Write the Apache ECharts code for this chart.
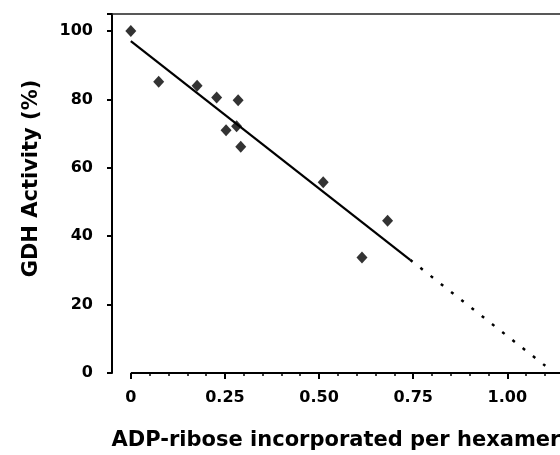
<!DOCTYPE html>
<html>
<head>
<meta charset="utf-8">
<script src="https://cdn.jsdelivr.net/npm/echarts@6/dist/echarts.min.js"></script>
<style>
html,body{margin:0;padding:0;background:#fff;}
#chart{width:560px;height:455px;}
</style>
</head>
<body>
<div id="chart"></div>
<script>
// ---- data ----
var adpRibose = [0.00, 0.074, 0.176, 0.228, 0.285, 0.281, 0.253, 0.292, 0.511, 0.682, 0.614];
var gdhActivity = [100, 85.2, 84.0, 80.6, 79.8, 72.2, 71.0, 66.2, 55.8, 44.5, 33.8];
var fitSolidX = [0, 0.742];
var fitSolidY = [97.1, 33.1];
var fitDottedX = [0.742, 1.101];
var fitDottedY = [33.1, 2.1];
var xTickValues = [0, 0.25, 0.5, 0.75, 1.0];
var xTickLabels = ['0', '0.25', '0.50', '0.75', '1.00'];
var xMinorTicks = [0.05, 0.1, 0.15, 0.2, 0.3, 0.35, 0.4, 0.45, 0.55, 0.6, 0.65, 0.7, 0.8, 0.85, 0.9, 0.95, 1.05, 1.1];
var yTickValues = [0, 20, 40, 60, 80, 100];
var xAxisStart = 0;
var xMin = -0.05, xMax = 1.14;
var yMin = 0, yMax = 105;

function zip(a, b) { return a.map(function (v, i) { return [v, b[i]]; }); }

var font = 'DejaVu Sans';
var chart = echarts.init(document.getElementById('chart'), null, {renderer: 'canvas'});
chart.setOption({
  animation: false,
  backgroundColor: '#fff',
  grid: {left: 112, top: 14, right: 0, bottom: 82, containLabel: false, outerBoundsMode: 'none'},
  xAxis: [{
    type: 'value', position: 'bottom', min: xMin, max: xMax,
    name: 'ADP-ribose incorporated per hexamer',
    nameLocation: 'middle', nameGap: 57,
    nameTextStyle: {fontFamily: font, fontWeight: 'bold', fontSize: 21, color: '#000'},
    axisLine: {show: false, onZero: false},
    axisTick: {show: true, customValues: xTickValues, length: 6, lineStyle: {color: '#000', width: 2}},
    axisLabel: {
      show: true, customValues: xTickValues, margin: 17,
      fontFamily: font, fontWeight: 'bold', fontSize: 16, color: '#000',
      formatter: function (v) {
        for (var i = 0; i < xTickValues.length; i++) {
          if (Math.abs(xTickValues[i] - v) < 1e-6) return xTickLabels[i];
        }
        return '';
      }
    },
    splitLine: {show: false}
  }, {
    type: 'value', position: 'bottom', min: xMin, max: xMax,
    axisLine: {show: false, onZero: false},
    axisTick: {show: true, customValues: xMinorTicks, length: 3, lineStyle: {color: '#000', width: 1.5}},
    axisLabel: {show: false},
    splitLine: {show: false}
  }, {
    type: 'value', position: 'top', min: xMin, max: xMax,
    axisLine: {show: true, onZero: false, lineStyle: {color: '#222', width: 1.5}},
    axisTick: {show: false},
    axisLabel: {show: false},
    splitLine: {show: false}
  }],
  yAxis: {
    type: 'value', min: yMin, max: yMax, interval: 20,
    name: 'GDH Activity (%)',
    nameLocation: 'middle', nameGap: 70,
    nameTextStyle: {fontFamily: font, fontWeight: 'bold', fontSize: 21, color: '#000', padding: [0, 0, 0, 30]},
    axisLine: {show: true, onZero: false, lineStyle: {color: '#000', width: 2}},
    axisTick: {show: true, length: 5, lineStyle: {color: '#000', width: 2}},
    axisLabel: {
      margin: 19, fontFamily: font, fontWeight: 'bold', fontSize: 16, color: '#000',
      customValues: yTickValues
    },
    splitLine: {show: false}
  },
  series: [{
    type: 'line', xAxisIndex: 0, silent: true, symbol: 'none',
    data: [[xAxisStart, yMin], [xMax, yMin]],
    lineStyle: {color: '#000', width: 2}, z: 1
  }, {
    type: 'line', xAxisIndex: 0, silent: true, symbol: 'none',
    data: zip(fitSolidX, fitSolidY),
    lineStyle: {color: '#000', width: 2.2}, z: 2
  }, {
    type: 'line', xAxisIndex: 0, silent: true, symbol: 'none',
    data: zip(fitDottedX, fitDottedY),
    lineStyle: {color: '#000', width: 2.5, type: [3, 10]}, z: 2
  }, {
    type: 'scatter', xAxisIndex: 0, symbol: 'diamond', symbolSize: [11, 12],
    data: zip(adpRibose, gdhActivity),
    itemStyle: {color: '#000'}, z: 3
  }]
});
</script>
</body>
</html>
